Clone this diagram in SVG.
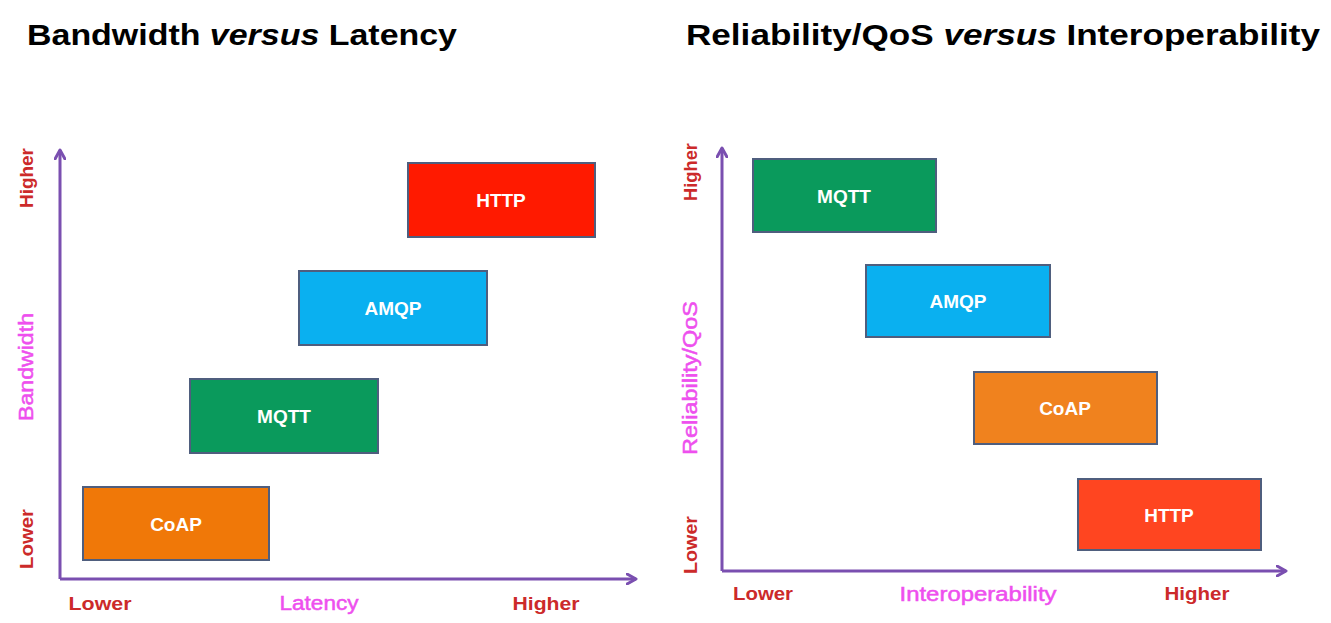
<svg xmlns="http://www.w3.org/2000/svg" width="1331" height="623" viewBox="0 0 1331 623">
<defs>
<marker id="arr" viewBox="0 0 12 12" refX="10" refY="6" markerWidth="12" markerHeight="12" markerUnits="userSpaceOnUse" orient="auto">
<path d="M1,1 L10,6 L1,11" fill="none" stroke="#7a4fb0" stroke-width="3" stroke-linecap="round" stroke-linejoin="round"/>
</marker>
<style>
.title{font-family:"Liberation Sans",Arial,sans-serif;font-weight:bold;font-size:30px;fill:#000}
.box{stroke:#4f5e7e;stroke-width:2}
.bt{font-family:"Liberation Sans",Arial,sans-serif;font-weight:bold;font-size:19px;fill:#fff;text-anchor:middle;dominant-baseline:central}
.lv{font-family:"Liberation Sans",Arial,sans-serif;font-weight:bold;font-size:19px;fill:#cc2a2a;text-anchor:middle}
.ax{font-family:"Liberation Sans",Arial,sans-serif;font-size:20px;fill:#ee4fee;stroke:#ee4fee;stroke-width:0.5;text-anchor:middle}
.axis{stroke:#7a4fb0;stroke-width:3;fill:none;marker-end:url(#arr)}
</style>
</defs>
<rect width="1331" height="623" fill="#fff"/>
<text class="title" x="27" y="45" textLength="430" lengthAdjust="spacingAndGlyphs">Bandwidth <tspan font-style="italic">versus</tspan> Latency</text>
<text class="title" x="686" y="45" textLength="634" lengthAdjust="spacingAndGlyphs">Reliability/QoS <tspan font-style="italic">versus</tspan> Interoperability</text>

<g id="connectors">
<path class="axis" d="M60,579 L60,150"/>
<path class="axis" d="M60,579 L636,579"/>
<path class="axis" d="M722,571 L722,148"/>
<path class="axis" d="M722,571 L1286,571"/>
</g>

<g id="left-labels">
<text class="lv" transform="translate(33,178) rotate(-90)" textLength="60" lengthAdjust="spacingAndGlyphs">Higher</text>
<text class="ax" transform="translate(33,367) rotate(-90)" textLength="108" lengthAdjust="spacingAndGlyphs">Bandwidth</text>
<text class="lv" transform="translate(33,539) rotate(-90)" textLength="60" lengthAdjust="spacingAndGlyphs">Lower</text>
<text class="lv" x="100" y="610" textLength="63" lengthAdjust="spacingAndGlyphs">Lower</text>
<text class="ax" x="319" y="610" textLength="79" lengthAdjust="spacingAndGlyphs">Latency</text>
<text class="lv" x="546" y="610" textLength="67" lengthAdjust="spacingAndGlyphs">Higher</text>
</g>

<g id="l-http"><rect class="box" x="408" y="163" width="187" height="74" fill="#ff1a00"/><text class="bt" x="501" y="200">HTTP</text></g>
<g id="l-amqp"><rect class="box" x="299" y="271" width="188" height="74" fill="#0ab0f0"/><text class="bt" x="393" y="308">AMQP</text></g>
<g id="l-mqtt"><rect class="box" x="190" y="379" width="188" height="74" fill="#0a9a5c"/><text class="bt" x="284" y="416">MQTT</text></g>
<g id="l-coap"><rect class="box" x="83" y="487" width="186" height="73" fill="#f07808"/><text class="bt" x="176" y="524">CoAP</text></g>

<g id="right-labels">
<text class="lv" transform="translate(697,172) rotate(-90)" textLength="58" lengthAdjust="spacingAndGlyphs">Higher</text>
<text class="ax" transform="translate(697,378) rotate(-90)" textLength="154" lengthAdjust="spacingAndGlyphs">Reliability/QoS</text>
<text class="lv" transform="translate(697,545) rotate(-90)" textLength="58" lengthAdjust="spacingAndGlyphs">Lower</text>
<text class="lv" x="763" y="600" textLength="60" lengthAdjust="spacingAndGlyphs">Lower</text>
<text class="ax" x="978" y="601" textLength="157" lengthAdjust="spacingAndGlyphs">Interoperability</text>
<text class="lv" x="1197" y="600" textLength="65" lengthAdjust="spacingAndGlyphs">Higher</text>
</g>

<g id="r-mqtt"><rect class="box" x="753" y="159" width="183" height="73" fill="#0a9a5c"/><text class="bt" x="844" y="196">MQTT</text></g>
<g id="r-amqp"><rect class="box" x="866" y="265" width="184" height="72" fill="#0ab0f0"/><text class="bt" x="958" y="301">AMQP</text></g>
<g id="r-coap"><rect class="box" x="974" y="372" width="183" height="72" fill="#f0821e"/><text class="bt" x="1065" y="408">CoAP</text></g>
<g id="r-http"><rect class="box" x="1078" y="479" width="183" height="71" fill="#ff4520"/><text class="bt" x="1169" y="515">HTTP</text></g>
</svg>
